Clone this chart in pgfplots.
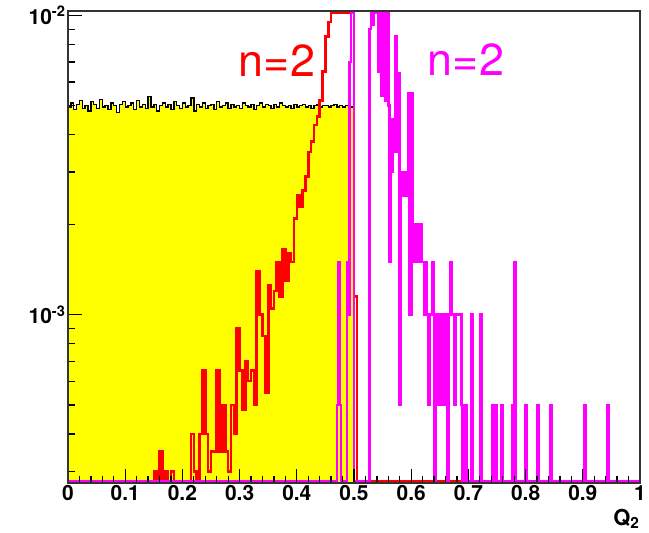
\documentclass[border=0pt]{standalone}
\usepackage{pgfplots}
\usepackage{pgfplotstable}
\pgfplotsset{compat=1.18}
\usepackage{fontspec}
\setmainfont{TeX Gyre Heros}
\definecolor{rootred}{RGB}{255,0,0}
\definecolor{rootmag}{RGB}{255,0,255}
\definecolor{rootyel}{RGB}{255,255,0}

\pgfplotstableread{
x y
0.000 1e-5
0.000 4.95e-3
0.005 5.10e-3
0.010 4.85e-3
0.015 5.05e-3
0.020 5.20e-3
0.025 4.90e-3
0.030 5.00e-3
0.035 4.80e-3
0.040 5.15e-3
0.045 5.05e-3
0.050 4.90e-3
0.055 5.25e-3
0.060 4.95e-3
0.065 5.00e-3
0.070 4.85e-3
0.075 5.10e-3
0.080 5.00e-3
0.085 4.75e-3
0.090 5.05e-3
0.095 5.15e-3
0.100 4.95e-3
0.105 5.00e-3
0.110 5.10e-3
0.115 4.85e-3
0.120 5.20e-3
0.125 4.95e-3
0.130 5.05e-3
0.135 4.90e-3
0.140 5.35e-3
0.145 4.95e-3
0.150 5.05e-3
0.155 4.80e-3
0.160 5.00e-3
0.165 5.10e-3
0.170 4.95e-3
0.175 5.05e-3
0.180 4.85e-3
0.185 5.15e-3
0.190 5.00e-3
0.195 4.90e-3
0.200 5.10e-3
0.205 4.95e-3
0.210 5.00e-3
0.215 5.30e-3
0.220 4.80e-3
0.225 5.05e-3
0.230 4.95e-3
0.235 5.10e-3
0.240 4.90e-3
0.245 5.00e-3
0.250 5.05e-3
0.255 4.85e-3
0.260 5.15e-3
0.265 4.95e-3
0.270 5.00e-3
0.275 5.10e-3
0.280 4.90e-3
0.285 5.05e-3
0.290 4.95e-3
0.295 5.00e-3
0.300 4.90e-3
0.305 5.10e-3
0.310 5.00e-3
0.315 4.95e-3
0.320 5.05e-3
0.325 4.85e-3
0.330 5.00e-3
0.335 5.10e-3
0.340 4.95e-3
0.345 5.05e-3
0.350 5.00e-3
0.355 4.90e-3
0.360 5.05e-3
0.365 4.95e-3
0.370 5.10e-3
0.375 5.00e-3
0.380 4.95e-3
0.385 5.00e-3
0.390 4.90e-3
0.395 5.05e-3
0.400 4.95e-3
0.405 5.00e-3
0.410 5.05e-3
0.415 4.95e-3
0.420 5.00e-3
0.425 4.90e-3
0.430 5.00e-3
0.435 5.05e-3
0.440 4.95e-3
0.445 5.00e-3
0.450 5.00e-3
0.455 4.95e-3
0.460 5.00e-3
0.465 5.05e-3
0.470 4.95e-3
0.475 5.00e-3
0.480 4.95e-3
0.485 5.00e-3
0.490 4.95e-3
0.495 4.95e-3
0.500 1e-5
}\yellowdata

\pgfplotstableread{
x y
0.000 2.77e-4
0.150 3.0e-4
0.155 2.77e-4
0.160 3.5e-4
0.165 2.77e-4
0.170 3.0e-4
0.175 2.77e-4
0.180 3.0e-4
0.185 2.77e-4
0.215 4.0e-4
0.220 3.0e-4
0.225 2.77e-4
0.230 4.0e-4
0.235 6.5e-4
0.240 4.0e-4
0.245 3.0e-4
0.250 3.5e-4
0.255 3.5e-4
0.260 6.5e-4
0.265 3.5e-4
0.270 5.0e-4
0.275 3.5e-4
0.280 3.0e-4
0.285 5.0e-4
0.290 4.0e-4
0.295 9.0e-4
0.300 6.5e-4
0.305 4.8e-4
0.310 7.0e-4
0.315 6.0e-4
0.320 6.5e-4
0.325 5.0e-4
0.330 1.4e-3
0.335 1.0e-3
0.340 8.5e-4
0.345 5.5e-4
0.350 1.25e-3
0.355 1.05e-3
0.360 1.2e-3
0.365 1.5e-3
0.370 1.15e-3
0.375 1.65e-3
0.380 1.3e-3
0.385 1.6e-3
0.390 1.5e-3
0.395 2.1e-3
0.400 2.5e-3
0.405 2.3e-3
0.410 2.6e-3
0.415 2.9e-3
0.420 3.5e-3
0.425 3.8e-3
0.430 4.3e-3
0.435 4.6e-3
0.440 5.2e-3
0.445 6.5e-3
0.450 8.5e-3
0.455 9.5e-3
0.460 1.025e-2
0.500 1.15e-3
0.505 2.77e-4
0.700 2.77e-4
}\reddata

\pgfplotstableread{
x y
0.000 2.77e-4
0.4700 5e-4
0.4725 1.5e-3
0.4750 5e-4
0.4775 2.77e-4
0.4875 1.5e-3
0.4900 1.0e-3
0.4925 7.0e-3
0.4950 1.025e-2
0.5000 2.77e-4
0.5275 9.0e-3
0.5300 1.025e-2
0.5325 9.3e-3
0.5350 1.025e-2
0.5425 6.5e-3
0.5450 1.025e-2
0.5475 5.4e-3
0.5500 1.025e-2
0.5550 5.2e-3
0.5575 1.025e-2
0.5600 5.0e-3
0.5625 1.5e-3
0.5650 3.0e-3
0.5675 4.5e-3
0.5700 3.5e-3
0.5725 8.5e-3
0.5750 3.5e-3
0.5775 6.4e-3
0.5800 5e-4
0.5825 3.0e-3
0.5850 2.5e-3
0.5875 3.0e-3
0.5900 2.5e-3
0.5925 3.0e-3
0.5950 5.5e-3
0.5975 1.0e-3
0.6000 5.5e-3
0.6025 2.0e-3
0.6050 1.5e-3
0.6075 2.0e-3
0.6100 2.0e-3
0.6125 1.5e-3
0.6150 2.0e-3
0.6175 1.5e-3
0.6200 1.5e-3
0.6225 1.0e-3
0.6250 1.5e-3
0.6275 1.0e-3
0.6300 5e-4
0.6325 1.0e-3
0.6350 1.0e-3
0.6375 1.5e-3
0.6400 2.77e-4
0.6425 1.0e-3
0.6450 5e-4
0.6475 1.0e-3
0.6500 1.0e-3
0.6525 5e-4
0.6550 1.0e-3
0.6575 1.0e-3
0.6600 5e-4
0.6625 2.77e-4
0.6650 1.0e-3
0.6675 1.5e-3
0.6700 1.0e-3
0.6725 1.0e-3
0.6750 5e-4
0.6775 1.0e-3
0.6800 1.0e-3
0.6825 1.0e-3
0.6850 1.0e-3
0.6875 5e-4
0.6900 2.77e-4
0.6950 5e-4
0.6975 2.77e-4
0.7050 1.0e-3
0.7075 2.77e-4
0.7200 1.0e-3
0.7225 2.77e-4
0.7425 5e-4
0.7450 2.77e-4
0.7475 5e-4
0.7500 2.77e-4
0.7575 5e-4
0.7600 2.77e-4
0.7775 5e-4
0.7800 1.5e-3
0.7825 2.77e-4
0.8000 5e-4
0.8025 2.77e-4
0.8200 5e-4
0.8225 2.77e-4
0.8425 5e-4
0.8450 2.77e-4
0.9025 5e-4
0.9050 2.77e-4
0.9425 5e-4
0.9450 2.77e-4
1.0000 2.77e-4
}\magdata

\begin{document}
\begin{tikzpicture}
\path[use as bounding box] (0,0) rectangle (649bp,533bp);
\begin{axis}[
  at={(68bp,50bp)}, anchor=south west,
  width=572bp, height=472bp, scale only axis,
  xmin=0, xmax=1,
  ymode=log, ymin=2.741e-4, ymax=1.035e-2,
  axis on top,
  axis line style={line width=1.6bp, black!80},
  tick align=inside, tick pos=left,
  xtick={0,0.1,0.2,0.3,0.4,0.5,0.6,0.7,0.8,0.9,1},
  xticklabels={0,0.1,0.2,0.3,0.4,0.5,0.6,0.7,0.8,0.9,1},
  minor x tick num=4,
  ytick={1e-3,1e-2},
  yticklabels={10\textsuperscript{-3},10\textsuperscript{-2}},
  minor ytick={3e-4,4e-4,5e-4,6e-4,7e-4,8e-4,9e-4,2e-3,3e-3,4e-3,5e-3,6e-3,7e-3,8e-3,9e-3},
  major tick length=14bp, minor tick length=7bp,
  every tick/.style={black, line width=1.3bp},
  tick label style={font=\bfseries\fontsize{21}{21}\selectfont, text=black},
  xticklabel style={yshift=1bp},
  yticklabel style={xshift=1bp},
  /pgf/number format/assume math mode=true,
]
\addplot[const plot, fill=rootyel, draw=black, line width=1.4bp] table[x=x,y=y] {\yellowdata};
\addplot[const plot, draw=rootred, line width=2.6bp, line join=miter] table[x=x,y=y] {\reddata};
\addplot[const plot, draw=rootmag, line width=2.6bp, line join=miter] table[x=x,y=y] {\magdata};
\end{axis}
\node[text=rootred, font=\fontsize{45}{45}\selectfont] at (277bp,472bp) {n=2};
\node[text=rootmag, font=\fontsize{45}{45}\selectfont] at (466bp,473bp) {n=2};
\node[anchor=base east, font=\bfseries\fontsize{22}{22}\selectfont] at (643bp,8bp) {Q\textsubscript{2}};
\end{tikzpicture}
\end{document}
